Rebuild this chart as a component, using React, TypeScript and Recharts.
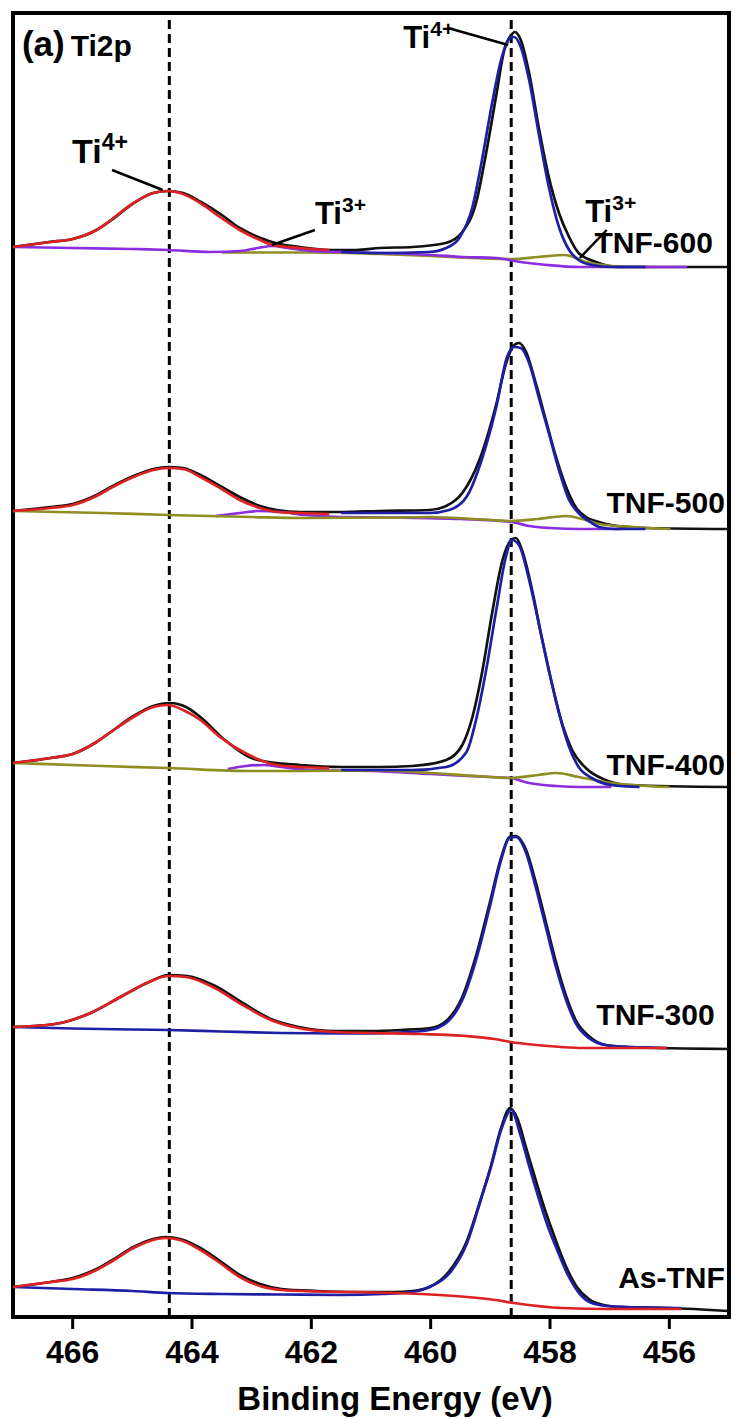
import {
  LineChart,
  Line,
  XAxis,
  YAxis,
  ReferenceLine,
  ReferenceArea,
  ReferenceDot,
} from "recharts";

type Pt = [number, number];

const FONT = "'Liberation Sans', Arial, sans-serif";

// x ticks (binding energy, eV)
const energyTicks = [466, 464, 462, 460, 458, 456];
// peak positions marked by dashed lines
const peakLines = [464.38, 458.65];

// vertical offset of each stacked spectrum (a.u.)
const panelNames = ["TNF-600", "TNF-500", "TNF-400", "TNF-300", "As-TNF"];
const panelOffsets = [1050, 788, 530, 268, 9];

// ---- TNF-600 ----
const tnf600Raw: Pt[] = [
  [467, 20], [466.4, 25], [466, 28], [465.6, 37], [465.35, 47], [465, 63], [464.65, 74], [464.4, 76],
  [464.15, 74], [463.85, 65], [463.5, 52], [463.2, 39], [462.85, 29], [462.6, 24], [462.2, 20],
  [461.7, 17], [461.25, 17], [460.85, 19], [460.3, 20], [459.75, 24], [459.47, 35], [459.24, 64],
  [459.07, 114], [458.9, 172], [458.77, 216], [458.65, 232], [458.59, 235], [458.49, 227],
  [458.35, 194], [458.19, 140], [458.02, 90], [457.85, 54], [457.68, 30], [457.52, 14],
  [457.23, 5], [456.85, 0], [455, 0],
];
const tnf600Ti4p1: Pt[] = [
  [467, 20], [466.37, 25], [466, 28], [465.6, 37], [465.36, 47], [464.98, 64], [464.65, 74],
  [464.41, 76], [464.2, 74], [463.86, 64], [463.53, 50], [463.2, 37], [462.86, 27], [462.64, 22],
  [462.19, 19], [461.7, 17],
];
const tnf600Ti4p3: Pt[] = [
  [461.5, 15], [460.86, 14], [460.03, 15], [459.74, 19], [459.52, 29], [459.3, 60], [459.14, 107],
  [458.97, 164], [458.82, 207], [458.67, 229], [458.6, 230], [458.49, 220], [458.35, 187],
  [458.19, 134], [458.02, 80], [457.85, 40], [457.68, 17], [457.52, 7], [457.3, 2], [456.97, 0],
  [456.4, 0],
];
const tnf600Ti3p1: Pt[] = [
  [467, 20], [466, 19], [465, 18], [464.4, 17], [463.7, 15], [463.2, 16], [462.9, 19],
  [462.65, 21], [462.4, 19], [462, 16], [461.5, 15], [460.86, 14], [460, 12], [459.47, 10],
  [458.9, 9], [458.5, 5], [458.05, 2], [457.5, 0], [455.7, 0],
];
const tnf600Ti3p3: Pt[] = [
  [463.5, 14.5], [462, 14.5], [460.86, 13], [460, 11], [459.5, 9.5], [458.65, 8], [458.2, 10],
  [457.75, 12], [457.4, 5], [456.97, 1], [456.3, 0],
];

// ---- TNF-500 ----
const tnf500Raw: Pt[] = [
  [467, 18], [466.37, 22], [466, 25], [465.6, 34], [465.36, 42], [464.98, 53], [464.65, 60],
  [464.4, 62], [464.15, 61], [463.86, 54], [463.53, 43], [463.2, 32], [462.86, 23], [462.58, 19],
  [462.19, 17], [461.5, 17], [460.86, 18], [460.02, 19], [459.74, 23], [459.47, 36], [459.19, 68],
  [458.9, 125], [458.74, 165], [458.6, 184], [458.52, 186], [458.4, 177], [458.24, 146],
  [458.07, 109], [457.9, 72], [457.73, 42], [457.57, 22], [457.4, 12], [457.18, 7], [456.97, 4],
  [456.4, 1], [455, 0],
];
const tnf500Ti4p1: Pt[] = [
  [467, 18], [466.37, 21], [466, 24], [465.6, 33], [465.36, 41], [464.98, 52], [464.65, 59],
  [464.4, 61], [464.15, 60], [463.86, 52], [463.53, 41], [463.2, 29], [462.86, 21], [462.58, 17],
  [462.19, 16], [461.7, 15],
];
const tnf500Ti4p3: Pt[] = [
  [461.5, 16], [460.02, 16], [459.69, 19], [459.4, 32], [459.14, 70], [458.9, 122], [458.72, 172],
  [458.6, 182], [458.49, 181], [458.35, 166], [458.19, 132], [458.02, 96], [457.85, 59],
  [457.68, 29], [457.52, 16], [457.3, 6], [457.18, 2], [456.9, 0], [456.4, 0],
];
const tnf500Ti3p1: Pt[] = [
  [463.6, 13], [463.2, 16], [462.9, 18], [462.5, 17], [462.1, 14], [461.5, 12], [460.5, 11.5],
  [459.5, 10], [458.65, 7], [458.35, 3], [458, 1], [457.5, 0], [456.8, 0],
];
const tnf500Ti3p3: Pt[] = [
  [467, 18], [465.5, 16], [464.4, 14], [463, 12], [462.19, 11], [460.5, 11.5], [460.02, 12],
  [459, 9], [458.65, 8], [458.2, 10], [457.73, 13], [457.4, 9], [457.18, 5], [456.6, 2],
  [455.98, 0],
];

// ---- TNF-400 ----
const tnf400Raw: Pt[] = [
  [467, 24], [466.37, 29], [466, 33], [465.6, 45], [465.36, 55], [464.98, 71], [464.65, 81],
  [464.37, 84], [464.1, 80], [463.86, 70], [463.45, 47], [462.9, 27], [462.19, 22], [461.5, 20],
  [460.86, 20], [460.31, 21], [459.74, 27], [459.47, 42], [459.3, 70], [459.14, 114], [458.97, 174],
  [458.8, 226], [458.65, 247], [458.57, 249], [458.47, 237], [458.3, 197], [458.14, 150],
  [457.97, 104], [457.8, 64], [457.63, 37], [457.4, 19], [457.07, 7], [456.68, 2], [455, 0],
];
const tnf400Ti4p1: Pt[] = [
  [467, 24], [466.37, 29], [466, 33], [465.6, 45], [465.36, 55], [464.98, 70], [464.65, 80],
  [464.4, 82], [464.15, 77], [463.86, 67], [463.53, 50], [463.2, 37], [462.86, 27], [462.58, 22],
  [462.19, 20], [461.7, 19],
];
const tnf400Ti4p3: Pt[] = [
  [461.5, 17], [460.31, 17], [459.74, 20], [459.4, 35], [459.24, 67], [459.07, 117], [458.9, 177],
  [458.74, 230], [458.64, 247], [458.52, 242], [458.35, 207], [458.19, 164], [458.02, 117],
  [457.85, 74], [457.68, 40], [457.52, 20], [457.3, 9], [456.97, 2], [456.5, 0],
];
const tnf400Ti3p1: Pt[] = [
  [463.4, 18], [463.1, 21], [462.8, 22], [462.5, 20], [462, 17], [461, 16], [460, 13], [459, 10],
  [458.67, 9], [458.35, 4], [457.9, 1], [457.5, 0], [456.97, 0],
];
const tnf400Ti3p3: Pt[] = [
  [467, 24], [465.5, 21], [464.4, 19], [463, 16], [462.19, 16], [460.86, 16.5], [460, 14],
  [459, 10], [458.67, 9], [458.2, 12], [457.9, 14], [457.52, 10], [456.97, 4], [456, 0],
];

// ---- TNF-300 ----
const tnf300Raw: Pt[] = [
  [467, 22], [466.3, 25], [465.7, 36], [465.2, 52], [464.72, 67], [464.4, 74], [464.08, 73],
  [463.61, 63], [463.15, 46], [462.68, 30], [462.21, 22], [461.6, 18], [461, 18], [460.5, 19],
  [460, 21], [459.74, 28], [459.47, 52], [459.24, 93], [459.01, 146], [458.82, 191], [458.68, 212],
  [458.57, 213], [458.4, 199], [458.24, 167], [458.07, 127], [457.9, 87], [457.73, 53],
  [457.57, 29], [457.35, 13], [457.07, 4], [456.68, 2], [455, 0],
];
const tnf300Ti4p1: Pt[] = [
  [467, 22], [466.3, 25], [465.7, 36], [465.2, 52], [464.72, 67], [464.4, 73], [464.1, 72],
  [463.62, 61], [463.15, 44], [462.68, 29], [462.22, 21], [461.6, 17], [460.96, 16], [460.17, 15],
  [459.4, 13], [458.93, 10], [458.66, 7], [458.22, 4], [457.43, 1], [456.04, 1],
];
const tnf300Ti4p3: Pt[] = [
  [467, 22], [466, 20.5], [465, 19.5], [464.4, 19], [463.5, 17.5], [462.5, 16], [461.5, 15.5],
  [461, 15.5], [460.5, 16.5], [460.02, 19], [459.74, 26], [459.47, 49], [459.24, 89], [459.01, 142],
  [458.82, 189], [458.68, 211], [458.57, 212], [458.4, 196], [458.24, 162], [458.07, 122],
  [457.9, 82], [457.73, 49], [457.57, 26], [457.35, 11], [457.07, 4], [456.68, 2], [456.04, 1],
];

// ---- As-TNF ----
const asTnfRaw: Pt[] = [
  [467, 21], [466.37, 26], [466, 30], [465.6, 39], [465.36, 47], [464.98, 61], [464.65, 69],
  [464.45, 71], [464.2, 69], [463.86, 60], [463.53, 47], [463.2, 33], [462.86, 24], [462.5, 19],
  [461.9, 17], [461.3, 16], [460.6, 16], [460.3, 17], [460.02, 21], [459.7, 36], [459.4, 66],
  [459.16, 109], [458.99, 142], [458.82, 180], [458.67, 200], [458.55, 190], [458.4, 160],
  [458.25, 130], [458.1, 101], [457.93, 72], [457.75, 44], [457.55, 21], [457.35, 9], [457.1, 3],
  [456.8, 1], [456, 0], [455, -3],
];
const asTnfTi4p1: Pt[] = [
  [467, 21], [466.37, 26], [466, 29], [465.6, 38], [465.36, 46], [464.98, 60], [464.65, 68],
  [464.45, 70], [464.2, 68], [463.86, 58], [463.53, 45], [463.2, 31], [462.86, 22], [462.5, 18],
  [461.9, 16.5], [461.27, 16], [460.16, 14], [459.39, 11], [458.92, 8], [458.6, 5], [457.8, 0],
  [457, -1], [455.8, -1],
];
const asTnfTi4p3: Pt[] = [
  [467, 21], [466, 19], [465, 17], [464.4, 15], [463.5, 14], [462.5, 13.5], [461.5, 13],
  [460.8, 14], [460.3, 16], [460.02, 21], [459.68, 35], [459.39, 65], [459.16, 108], [458.99, 141],
  [458.82, 178], [458.65, 198], [458.5, 174], [458.35, 142], [458.2, 112], [458.05, 84],
  [457.88, 58], [457.7, 33], [457.5, 14], [457.3, 5], [457.05, 2], [456.7, 1], [455.8, 0],
];

const BLACK = "#111111";
const RED = "#dc2222";
const BLUE = "#1f1fa6";
const OLIVE = "#8e8e22";
const PURPLE = "#8a2ee0";

// drawing order per panel (later on top)
const panelSeries: { pts: Pt[]; color: string }[][] = [
  [
    { pts: tnf600Raw, color: BLACK },
    { pts: tnf600Ti3p3, color: OLIVE },
    { pts: tnf600Ti3p1, color: PURPLE },
    { pts: tnf600Ti4p3, color: BLUE },
    { pts: tnf600Ti4p1, color: RED },
  ],
  [
    { pts: tnf500Raw, color: BLACK },
    { pts: tnf500Ti3p1, color: PURPLE },
    { pts: tnf500Ti3p3, color: OLIVE },
    { pts: tnf500Ti4p3, color: BLUE },
    { pts: tnf500Ti4p1, color: RED },
  ],
  [
    { pts: tnf400Raw, color: BLACK },
    { pts: tnf400Ti3p1, color: PURPLE },
    { pts: tnf400Ti3p3, color: OLIVE },
    { pts: tnf400Ti4p3, color: BLUE },
    { pts: tnf400Ti4p1, color: RED },
  ],
  [
    { pts: tnf300Raw, color: BLACK },
    { pts: tnf300Ti4p3, color: BLUE },
    { pts: tnf300Ti4p1, color: RED },
  ],
  [
    { pts: asTnfRaw, color: BLACK },
    { pts: asTnfTi4p3, color: BLUE },
    { pts: asTnfTi4p1, color: RED },
  ],
];

const toRows = (pts: Pt[], off: number) => pts.map(([e, v]) => ({ e, v: v + off }));

// annotations, in data coordinates
const panelLabelPos: Pt[] = [
  [455.27, 1064], [455.07, 804], [455.07, 542], [455.24, 292], [455.07, 29],
];
const ionLabels = [
  { e: 466.01, v: 1154, text: "Ti", sup: "4+", size: 34 },
  { e: 461.94, v: 1093, text: "Ti", sup: "3+", size: 31 },
  { e: 460.46, v: 1269, text: "Ti", sup: "4+", size: 31 },
  { e: 457.41, v: 1095, text: "Ti", sup: "3+", size: 31 },
];
const leaders: [Pt, Pt][] = [
  [[465.34, 1147], [464.49, 1127]],
  [[461.94, 1087], [462.66, 1072]],
  [[459.71, 1289], [458.7, 1272]],
  [[457.05, 1087], [457.5, 1059]],
];

function Note(props: any) {
  const { cx, cy, text, sup, size, anchor } = props;
  return (
    <text
      x={cx}
      y={cy}
      textAnchor={anchor || "start"}
      fontSize={size}
      fontWeight="bold"
      fontFamily={FONT}
      fill="#000"
    >
      {text}
      {sup ? (
        <tspan dy={-size * 0.38} fontSize={size * 0.68}>
          {sup}
        </tspan>
      ) : null}
    </text>
  );
}

export default function App() {
  return (
    <div style={{ position: "absolute", left: 0, top: 0, width: 733, height: 1419, background: "#fff" }}>
      <LineChart width={733} height={1419} margin={{ top: 13, right: 4, bottom: 12, left: 13 }}>
        <XAxis
          dataKey="e"
          type="number"
          domain={[455, 467]}
          reversed
          allowDataOverflow
          ticks={energyTicks}
          height={90}
          axisLine={false}
          tickSize={12}
          tickMargin={11}
          tickLine={{ stroke: "#000", strokeWidth: 3 }}
          tick={{ fontSize: 32, fontWeight: "bold", fill: "#000", fontFamily: FONT }}
          label={{
            content: (p: any) => {
              const vb = p.viewBox || {};
              return (
                <text
                  x={(vb.x ?? 13) + (vb.width ?? 716) / 2 + 24}
                  y={(vb.y ?? 1317) + 93}
                  textAnchor="middle"
                  fontSize={33}
                  fontWeight="bold"
                  fontFamily={FONT}
                  fill="#000"
                >
                  Binding Energy (eV)
                </text>
              );
            },
          }}
        />
        <YAxis type="number" domain={[0, 1304]} hide allowDataOverflow />
        <ReferenceArea
          x1={467}
          x2={455}
          y1={0}
          y2={1304}
          fill="none"
          fillOpacity={0}
          stroke="#000"
          strokeWidth={4}
          ifOverflow="visible"
        />
        {peakLines.map((e) => (
          <ReferenceLine key={e} x={e} stroke="#000" strokeWidth={3} strokeDasharray="9 5" />
        ))}
        {panelSeries.map((series, i) =>
          series.map((s, j) => (
            <Line
              key={`${i}-${j}`}
              data={toRows(s.pts, panelOffsets[i])}
              dataKey="v"
              type="monotone"
              stroke={s.color}
              strokeWidth={2.7}
              dot={false}
              activeDot={false}
              isAnimationActive={false}
            />
          ))
        )}
        {leaders.map((seg, i) => (
          <ReferenceLine
            key={`ld${i}`}
            segment={[{ x: seg[0][0], y: seg[0][1] }, { x: seg[1][0], y: seg[1][1] }]}
            stroke="#000"
            strokeWidth={2.5}
          />
        ))}
        {ionLabels.map((l, i) => (
          <ReferenceDot
            key={`ion${i}`}
            x={l.e}
            y={l.v}
            r={0}
            shape={(p: any) => <Note cx={p.cx} cy={p.cy} text={l.text} sup={l.sup} size={l.size} />}
          />
        ))}
        {panelNames.map((name, i) => (
          <ReferenceDot
            key={`pn${i}`}
            x={panelLabelPos[i][0]}
            y={panelLabelPos[i][1]}
            r={0}
            shape={(p: any) => <Note cx={p.cx} cy={p.cy} text={name} size={30} anchor="end" />}
          />
        ))}
        <ReferenceDot
          x={466.85}
          y={1261}
          r={0}
          shape={(p: any) => (
            <text x={p.cx} y={p.cy} fontWeight="bold" fontFamily={FONT} fill="#000">
              <tspan fontSize={35}>(a)</tspan>
              <tspan fontSize={30} dx={6}>Ti2p</tspan>
            </text>
          )}
        />
      </LineChart>
    </div>
  );
}
